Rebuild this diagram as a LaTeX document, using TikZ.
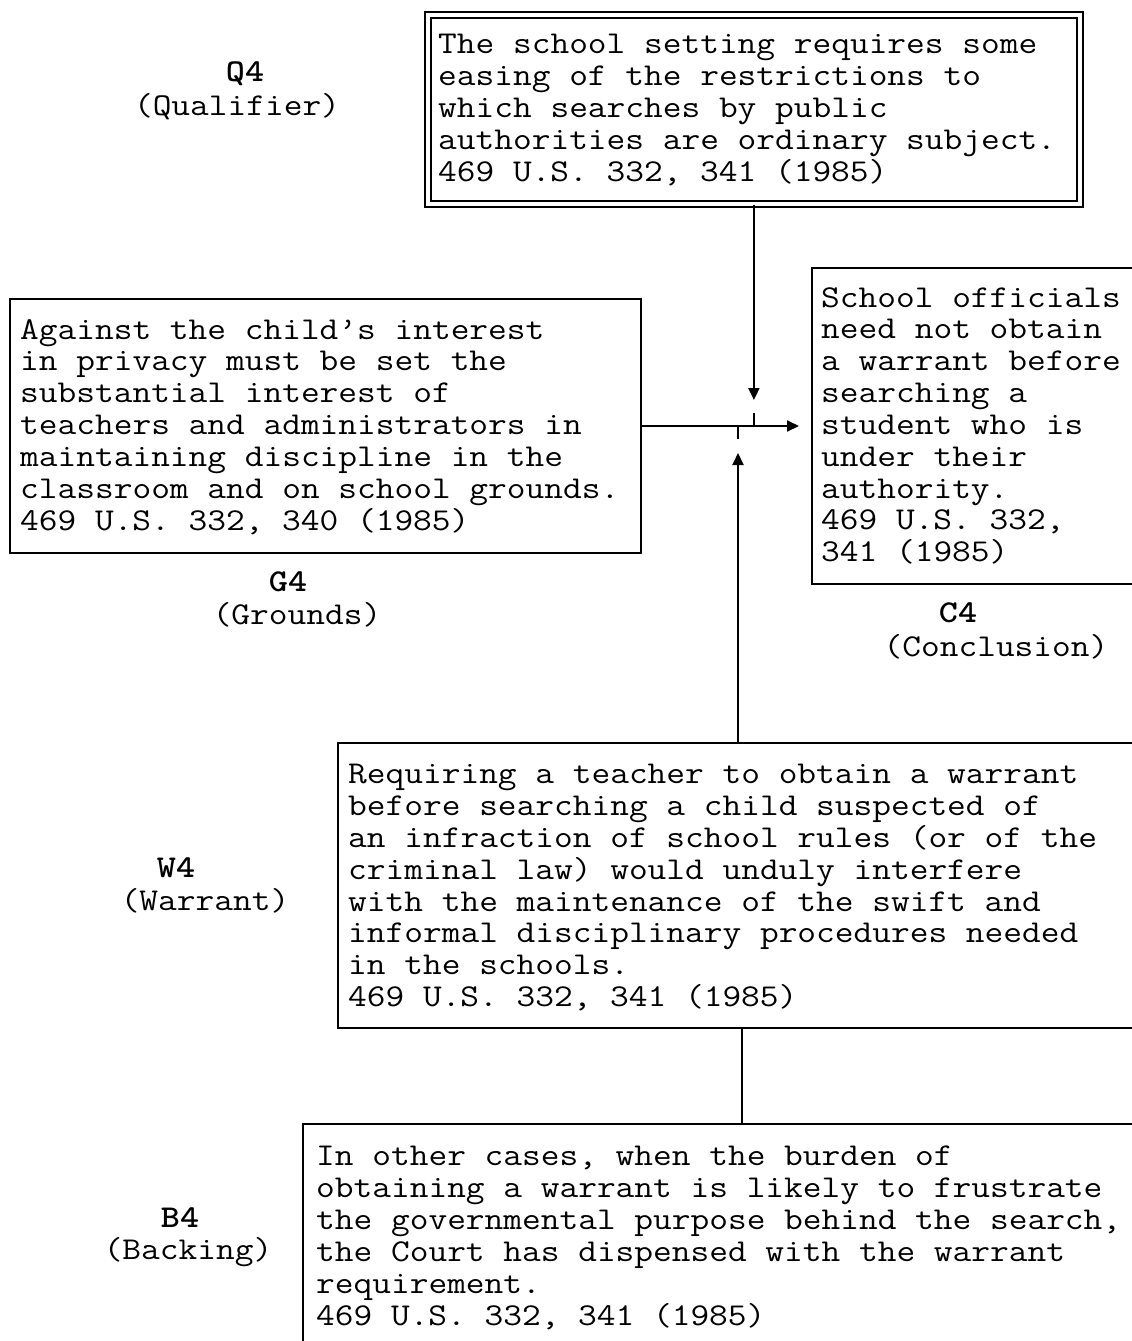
\documentclass[tikz,border=0pt]{standalone}
\usetikzlibrary{arrows.meta}
\newcommand{\cour}{\ttfamily\fontsize{31.8}{31.85}\selectfont\frenchspacing}
\tikzset{
  box/.style={draw, line width=2pt, inner sep=0pt, anchor=north west},
  txt/.style={font=\cour, align=left, inner sep=0pt, anchor=north west, xscale=1.143},
  tag/.style={font=\cour\bfseries, inner sep=0pt, xscale=1.143},
  role/.style={font=\cour, inner sep=0pt, xscale=1.143},
  link/.style={line width=2pt},
  tip/.style={-{Triangle[length=12pt,width=11pt]}}
}
\begin{document}
\begin{tikzpicture}[x=1pt,y=-1pt]
  \useasboundingbox (0,0) rectangle (1132,1341);
  \fill[white] (0,0) rectangle (1132,1341);
  \clip (0,0) rectangle (1132,1341);
  % boxes
  \node[box, double, line width=1.8pt, double distance=4.6pt,
        minimum width=652pt, minimum height=189pt] (q4box) at (427,14) {};
  \node[box, minimum width=631pt, minimum height=254pt] (g4box) at (9,298) {};
  \node[box, minimum width=350pt, minimum height=316pt] (c4box) at (811,267) {};
  \node[box, minimum width=800pt, minimum height=285pt] (w4box) at (337,742) {};
  \node[box, minimum width=878pt, minimum height=260pt] (b4box) at (302,1123) {};
  % texts
  \node[txt] (q4text) at (438,34) {The school setting requires some\\
    easing of the restrictions to\\
    which searches by public\\
    authorities are ordinary subject.\\
    469 U.S. 332, 341 (1985)};
  \node[txt] (g4text) at (20,319) {Against the child’s interest\\
    in privacy must be set the\\
    substantial interest of\\
    teachers and administrators in\\
    maintaining discipline in the\\
    classroom and on school grounds.\\
    469 U.S. 332, 340 (1985)};
  \node[txt] (c4text) at (821,287) {School officials\\
    need not obtain\\
    a warrant before\\
    searching a\\
    student who is\\
    under their\\
    authority.\\
    469 U.S. 332,\\
    341 (1985)};
  \node[txt] (w4text) at (348,764) {Requiring a teacher to obtain a warrant\\
    before searching a child suspected of\\
    an infraction of school rules (or of the\\
    criminal law) would unduly interfere\\
    with the maintenance of the swift and\\
    informal disciplinary procedures needed\\
    in the schools.\\
    469 U.S. 332, 341 (1985)};
  \node[txt] (b4text) at (316,1146) {In other cases, when the burden of\\
    obtaining a warrant is likely to frustrate\\
    the governmental purpose behind the search,\\
    the Court has dispensed with the warrant\\
    requirement.\\
    469 U.S. 332, 341 (1985)};
  % labels
  \node[tag] (q4) at (245,74) {Q4};
  \node[role] (q4role) at (237,107) {(Qualifier)};
  \node[tag] (g4) at (288,582) {G4};
  \node[role] (g4role) at (297,615) {(Grounds)};
  \node[tag] (c4) at (958,613) {C4};
  \node[role] (c4role) at (996,647) {(Conclusion)};
  \node[tag] (w4) at (176,868) {W4};
  \node[role] (w4role) at (205,901) {(Warrant)};
  \node[tag] (b4) at (180,1218) {B4};
  \node[role] (b4role) at (188,1252) {(Backing)};
  % connectors
  \coordinate (jq) at (q4box.south |- g4box.east);
  \coordinate (jw) at (w4box.north |- g4box.east);
  \draw[link,tip,shorten >=26pt] (q4box.south) -- (jq);
  \draw[link] (jq) -- ++(0,-13);
  \draw[link,tip,shorten >=12pt] (g4box.east) -- (c4box.west);
  \draw[link,tip,shorten >=27pt] (w4box.north) -- (jw);
  \draw[link] (jw) -- ++(0,13);
  \draw[link] (b4box.north |- w4box.south) -- (b4box.north);
\end{tikzpicture}
\end{document}
